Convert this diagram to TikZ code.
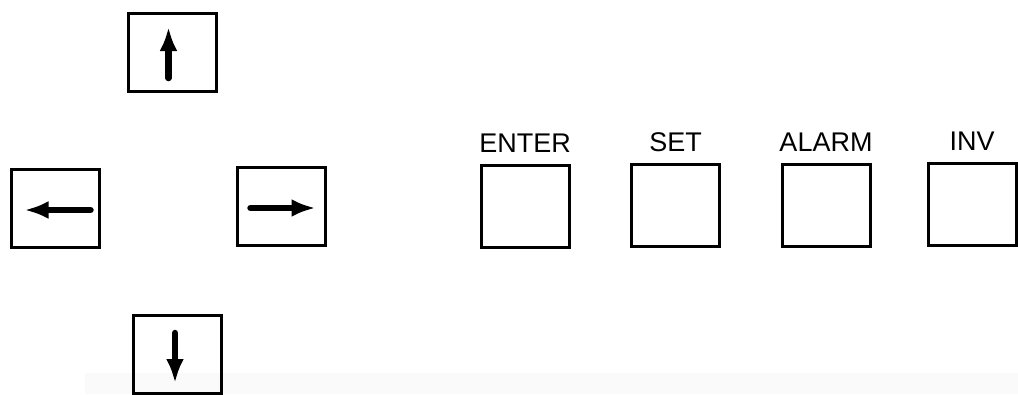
\documentclass[tikz,border=0pt]{standalone}
\usepackage{fontspec}
\setmainfont{Liberation Sans}
\usetikzlibrary{arrows.meta,positioning}
\begin{document}
\begin{tikzpicture}[x=1pt, y=-1pt,
  keybox/.style={draw, line width=3pt, minimum width=88pt, minimum height=78pt, inner sep=0pt},
  keyarrow/.style={line width=6.5pt, line cap=round, -{Latex[length=24pt,width=18pt]}},
  keylabel/.style={inner sep=0pt, font=\fontsize{27}{32}\selectfont}]
\useasboundingbox (0,0) rectangle (1018,394);
\definecolor{scan}{HTML}{FAFAFA}
\fill[scan] (85,373) rectangle (1018,394);
% cursor keys
\node[keybox] (up) at (172.5,52) {};
\node[keybox] (left) at (55.5,208) {};
\node[keybox] (right) at (281.5,206.5) {};
\node[keybox] (down) at (177.5,354) {};
\draw[keyarrow] ([xshift=-4pt,yshift=-26pt]up.center) -- ([xshift=-4pt,yshift=25pt]up.center);
\draw[keyarrow] ([xshift=35pt,yshift=-2pt]left.center) -- ([xshift=-31pt,yshift=-2pt]left.center);
\draw[keyarrow] ([xshift=-31pt,yshift=-1.5pt]right.center) -- ([xshift=34pt,yshift=-1.5pt]right.center);
\draw[keyarrow] ([xshift=-2.5pt,yshift=21pt]down.center) -- ([xshift=-2.5pt,yshift=-29pt]down.center);
% function keys
\node[keybox, minimum height=82pt] (enter) at (525,206) {};
\node[keybox, minimum height=82pt] (set) at (675.5,205.5) {};
\node[keybox, minimum height=82pt] (alarm) at (826,205) {};
\node[keybox, minimum height=82pt] (inv) at (972,204.5) {};
\node[keylabel, above=11pt of enter] (enterlab) {ENTER};
\node[keylabel, above=11pt of set] (setlab) {SET};
\node[keylabel, above=11pt of alarm] (alarmlab) {ALARM};
\node[keylabel, above=11pt of inv] (invlab) {INV};
\end{tikzpicture}
\end{document}
